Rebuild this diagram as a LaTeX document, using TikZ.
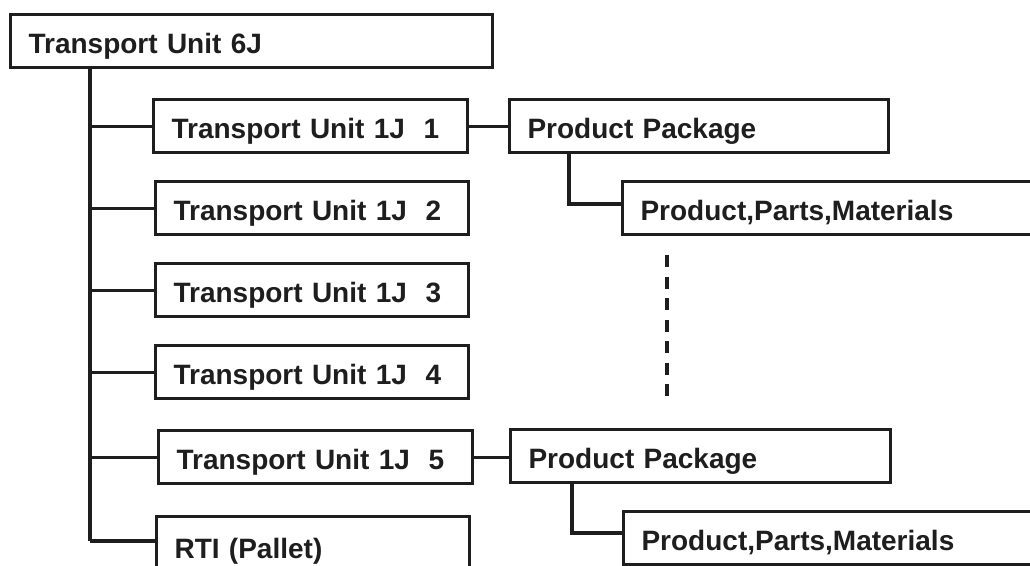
\documentclass[tikz,border=0pt]{standalone}
\usepackage{fontspec}
\setmainfont{Liberation Sans}
\definecolor{ink}{HTML}{1E1E1E}
\begin{document}
\begin{tikzpicture}[x=1pt,y=-1pt,
  box/.style={draw=ink, line width=3.1pt, rectangle, anchor=north west,
    font=\bfseries\fontsize{28}{32}\selectfont, text=ink, align=left,
    inner xsep=18pt, inner ysep=0pt, minimum height=53pt,
    text height=24pt, text depth=0pt},
  link/.style={draw=ink, line width=3.1pt},
  dotted link/.style={draw=ink, line width=3.2pt, dash pattern=on 12pt off 9.5pt}]
\useasboundingbox (0,0) rectangle (1030,565);
\clip (0,0) rectangle (1030,565);

% boxes
\node[box, text width=446pt] (top) at (9,13) {Transport Unit 6J};
\node[box, text width=278pt] (tu1) at (152,98) {Transport Unit 1J~~1};
\node[box, text width=277pt] (tu2) at (154,180) {Transport Unit 1J~~2};
\node[box, text width=277pt] (tu3) at (154,262) {Transport Unit 1J~~3};
\node[box, text width=277pt] (tu4) at (154,344) {Transport Unit 1J~~4};
\node[box, text width=278pt] (tu5) at (157,429) {Transport Unit 1J~~5};
\node[box, text width=277pt, minimum height=60pt] (rti) at (155,515) {RTI (Pallet)};
\node[box, text width=343pt] (pp1) at (508,98) {Product Package};
\node[box, text width=388pt] (ppm1) at (621,180) {Product,Parts,Materials};
\node[box, text width=344pt] (pp2) at (509,428) {Product Package};
\node[box, text width=388pt] (ppm2) at (622,510) {Product,Parts,Materials};

% trunk
\coordinate (tb) at (90,541);
\draw[link] (tb |- top.south) -- (tb);
\draw[link] (tb |- tu1.west) -- (tu1.west);
\draw[link] (tb |- tu2.west) -- (tu2.west);
\draw[link] (tb |- tu3.west) -- (tu3.west);
\draw[link] (tb |- tu4.west) -- (tu4.west);
\draw[link] (tb |- tu5.west) -- (tu5.west);
\draw[link] (tb) -- (tb -| rti.west);

% product packages
\draw[link] (tu1.east) -- (tu1.east -| pp1.west);
\draw[link] (tu5.east) -- (tu5.east -| pp2.west);

\coordinate (c1) at (569,204);
\draw[link] (c1 |- pp1.south) -- (c1) -- (c1 -| ppm1.west);
\coordinate (c2) at (572,533);
\draw[link] (c2 |- pp2.south) -- (c2) -- (c2 -| ppm2.west);

% dashed continuation
\coordinate (dtop) at (667,255);
\coordinate (dbot) at (667,397);
\draw[dotted link] (dtop) -- (dbot);
\end{tikzpicture}
\end{document}
